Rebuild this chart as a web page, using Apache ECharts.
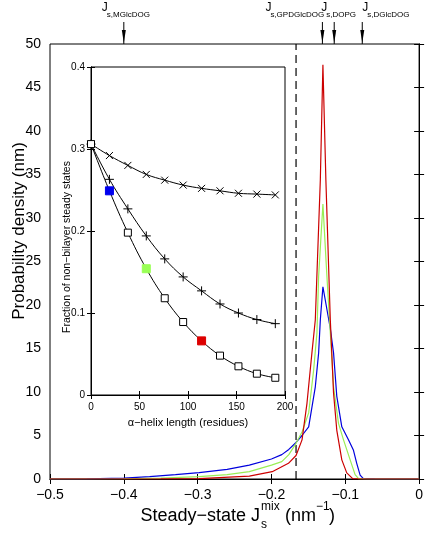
<!DOCTYPE html>
<html><head><meta charset="utf-8">
<script src="https://cdn.jsdelivr.net/npm/echarts@6/dist/echarts.min.js"></script>
<style>html,body{margin:0;padding:0;background:#fff}#c{width:426px;height:533px}</style>
</head><body><div id="c"></div>
<script>
// ---- main plot data: probability density of steady-state J_s^mix ----
const blueJ = [-0.5,-0.45,-0.40,-0.365,-0.33,-0.298,-0.26,-0.23,-0.20,-0.186,-0.1765,-0.1667,-0.1586,-0.1496,-0.1406,-0.1361,-0.1338,-0.1303,-0.1203,-0.1159,-0.1115,-0.1047,-0.0957,-0.0889,-0.0845,-0.0799,-0.0755,-0.06,-0.04,0];
const blueDensity = [0,0.02,0.1,0.27,0.5,0.73,1.1,1.6,2.3,2.8,3.4,4.2,5.0,6.0,10.6,14.5,18.3,22.1,17.3,14.5,9.5,6.0,4.5,3.3,1.8,0.45,0.05,0.02,0,0];
const greenJ = [-0.5,-0.4,-0.35,-0.298,-0.26,-0.23,-0.20,-0.186,-0.1765,-0.1667,-0.1586,-0.1496,-0.1429,-0.1384,-0.1361,-0.1303,-0.1249,-0.1159,-0.1092,-0.1024,-0.0934,-0.0867,-0.082,-0.07,0];
const greenDensity = [0,0.03,0.1,0.27,0.5,0.84,1.6,2.0,2.8,4.1,5.4,7.6,12.5,16.8,23.3,31.6,23.3,10.6,6.4,4.5,2.2,0.5,0.05,0,0];
const redJ = [-0.5,-0.35,-0.298,-0.23,-0.199,-0.177,-0.1667,-0.1586,-0.1519,-0.1452,-0.1406,-0.1338,-0.1303,-0.1263,-0.1203,-0.1159,-0.1115,-0.1047,-0.098,-0.09,-0.08,0];
const redDensity = [0,0.02,0.05,0.34,0.84,1.8,2.7,4.5,8.7,14.5,18.3,34.4,47.6,34.4,18.3,9.9,5.6,2.2,0.7,0.05,0,0];
const criticalJ = -0.1667;
const markerNames = ['MGlcDOG','GPDGlcDOG','DOPG','DGlcDOG'];
const markerJ = [-0.4,-0.131,-0.115,-0.077];

// ---- inset data ----
const helixLength = [0,19,38,57,76,95,114,133,152,171,190];
const fracCross  = [0.306,0.292,0.280,0.269,0.262,0.256,0.252,0.249,0.246,0.245,0.244];
const fracPlus   = [0.306,0.263,0.227,0.194,0.166,0.144,0.127,0.111,0.100,0.092,0.087];
const fracSquare = [0.306,0.249,0.198,0.154,0.118,0.089,0.066,0.048,0.035,0.026,0.021];
const highlightIndex = [1,3,6];

// ---- styles ----
const highlightColor = ['#0000ee','#99ff55','#dd0000'];
const markerLabelDx = [-22,-57,-13,0];
const FONT = '"Liberation Sans", Arial, Helvetica, sans-serif';

const zip = (a,b)=>a.map((v,i)=>[v,b[i]]);
const fmtMinus = v => (v < 0 ? '\u2212' : '') + String(Math.round(Math.abs(v)*10)/10);

const chart = echarts.init(document.getElementById('c'), null, {renderer:'canvas'});

const tickStyle = {show:true, inside:true, length:5, lineStyle:{color:'#000', width:1}};
const insetTick = {show:true, inside:true, length:4, lineStyle:{color:'#000', width:1}};
const axLine = {show:true, lineStyle:{color:'#000', width:1}};

function squareData(){
  return zip(helixLength, fracSquare).map((p,i)=>{
    const k = highlightIndex.indexOf(i);
    if (k >= 0) return {value:p, symbolSize:8, itemStyle:{color:highlightColor[k], borderColor:highlightColor[k]}};
    return {value:p};
  });
}

const option = {
  animation:false,
  backgroundColor:'#fff',
  grid:[
    {left:50, right:5, top:44, bottom:54, show:true, borderColor:'#000', borderWidth:1, backgroundColor:'#fff'},
    {left:91, right:141, top:67, bottom:138, show:true, borderColor:'#000', borderWidth:1, backgroundColor:'#fff'}
  ],
  xAxis:[
    {gridIndex:0, type:'value', min:-0.5, max:0, interval:0.1, position:'bottom',
     axisLine:axLine, axisTick:tickStyle, splitLine:{show:false},
     axisLabel:{formatter:fmtMinus, color:'#000', fontSize:14, margin:9, fontFamily:FONT}},
    {gridIndex:0, type:'value', min:-0.5, max:0, interval:0.1, position:'top',
     axisLine:axLine, axisTick:tickStyle, splitLine:{show:false}, axisLabel:{show:false}},
    {gridIndex:1, type:'value', min:0, max:200, interval:50, position:'bottom',
     axisLine:axLine, axisTick:insetTick, splitLine:{show:false},
     axisLabel:{color:'#000', fontSize:10, margin:7, fontFamily:FONT}},
    {gridIndex:1, type:'value', min:0, max:200, interval:50, position:'top',
     axisLine:axLine, axisTick:insetTick, splitLine:{show:false}, axisLabel:{show:false}}
  ],
  yAxis:[
    {gridIndex:0, type:'value', min:0, max:50, interval:5, position:'left',
     axisLine:axLine, axisTick:tickStyle, splitLine:{show:false},
     axisLabel:{color:'#000', fontSize:14, margin:9, fontFamily:FONT}},
    {gridIndex:0, type:'value', min:0, max:50, interval:5, position:'right',
     axisLine:axLine, axisTick:tickStyle, splitLine:{show:false}, axisLabel:{show:false}},
    {gridIndex:1, type:'value', min:0, max:0.4, interval:0.1, position:'left',
     axisLine:axLine, axisTick:insetTick, splitLine:{show:false},
     axisLabel:{color:'#000', fontSize:10, margin:6, fontFamily:FONT}},
    {gridIndex:1, type:'value', min:0, max:0.4, interval:0.1, position:'right',
     axisLine:axLine, axisTick:insetTick, splitLine:{show:false}, axisLabel:{show:false}}
  ],
  graphic:[
    {type:'text', x:19, y:231, rotation:Math.PI/2, style:{text:'Probability density (nm)', font:'17px '+FONT, fill:'#000', align:'center', verticalAlign:'middle'}},
    {type:'text', x:260, y:516, style:{text:'Steady\u2212state J', font:'18px '+FONT, fill:'#000', align:'right', verticalAlign:'middle'}},
    {type:'text', x:261, y:507, style:{text:'mix', font:'12px '+FONT, fill:'#000', align:'left', verticalAlign:'middle'}},
    {type:'text', x:261, y:525, style:{text:'s', font:'12px '+FONT, fill:'#000', align:'left', verticalAlign:'middle'}},
    {type:'text', x:285, y:516, style:{text:'(nm', font:'18px '+FONT, fill:'#000', align:'left', verticalAlign:'middle'}},
    {type:'text', x:316, y:507, style:{text:'\u22121', font:'12px '+FONT, fill:'#000', align:'left', verticalAlign:'middle'}},
    {type:'text', x:329, y:516, style:{text:')', font:'18px '+FONT, fill:'#000', align:'left', verticalAlign:'middle'}},
    {type:'text', x:67, y:247, rotation:Math.PI/2, style:{text:'Fraction of non\u2212bilayer steady states', font:'10.5px '+FONT, fill:'#000', align:'center', verticalAlign:'middle'}},
    {type:'text', x:188, y:423, style:{text:'\u03b1\u2212helix length (residues)', font:'11px '+FONT, fill:'#000', align:'center', verticalAlign:'middle'}}
  ],
  series:[
    {type:'line', name:'critical', xAxisIndex:0, yAxisIndex:0, data:[[criticalJ,0],[criticalJ,50]],
     symbol:'none', lineStyle:{color:'#000', width:1.2, type:[8,5]}, z:3},
    {type:'line', name:'blue', xAxisIndex:0, yAxisIndex:0, data:zip(blueJ,blueDensity),
     symbol:'none', lineStyle:{color:'#0000dd', width:1.2}, z:4},
    {type:'line', name:'green', xAxisIndex:0, yAxisIndex:0, data:zip(greenJ,greenDensity),
     symbol:'none', lineStyle:{color:'#99ee55', width:1.2}, z:5},
    {type:'line', name:'red', xAxisIndex:0, yAxisIndex:0, data:zip(redJ,redDensity),
     symbol:'none', lineStyle:{color:'#cc0000', width:1.2}, z:6},
    {type:'custom', name:'markers', xAxisIndex:0, yAxisIndex:0, clip:false, silent:true,
     data:markerJ.map((x,i)=>[x,i]),
     renderItem:function(params, api){
       const i = api.value(1);
       const p = api.coord([api.value(0), 50]);
       const x = p[0], top = p[1];
       const lx = x + markerLabelDx[i];
       return {type:'group', children:[
         {type:'line', shape:{x1:x, y1:top-22, x2:x, y2:top}, style:{stroke:'#000', lineWidth:1}},
         {type:'polygon', shape:{points:[[x-2,top-14],[x+2,top-14],[x,top-1]]}, style:{fill:'#000'}},
         {type:'text', x:lx, y:top-36, style:{text:'J', font:'12px '+FONT, fill:'#000', align:'left', verticalAlign:'middle'}},
         {type:'text', x:lx+5, y:top-29.5, style:{text:'s,'+markerNames[i], font:'8px '+FONT, fill:'#000', align:'left', verticalAlign:'middle'}}
       ]};
     }},
    {type:'line', name:'cross', xAxisIndex:2, yAxisIndex:2, data:zip(helixLength,fracCross),
     smooth:0.4, symbol:'path://M0,0L10,10M10,0L0,10', symbolSize:7, showSymbol:true,
     itemStyle:{color:'rgba(0,0,0,0)', borderColor:'#000', borderWidth:1},
     lineStyle:{color:'#000', width:1}, z:10},
    {type:'line', name:'plus', xAxisIndex:2, yAxisIndex:2, data:zip(helixLength,fracPlus),
     smooth:0.4, symbol:'path://M5,0L5,10M0,5L10,5', symbolSize:9, showSymbol:true,
     itemStyle:{color:'rgba(0,0,0,0)', borderColor:'#000', borderWidth:1},
     lineStyle:{color:'#000', width:1}, z:10},
    {type:'line', name:'square', xAxisIndex:2, yAxisIndex:2, data:squareData(),
     smooth:0.4, symbol:'rect', symbolSize:7, showSymbol:true,
     itemStyle:{color:'#fff', borderColor:'#000', borderWidth:1},
     lineStyle:{color:'#000', width:1}, z:10}
  ]
};
chart.setOption(option);
</script></body></html>
